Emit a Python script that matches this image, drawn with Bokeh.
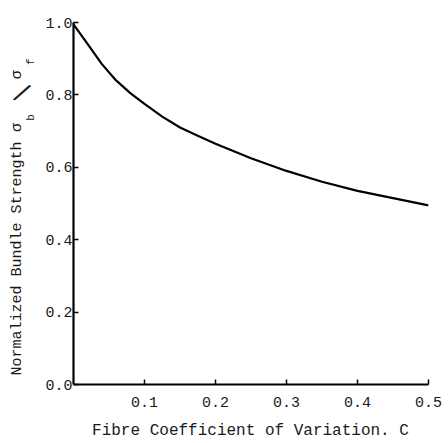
from bokeh.plotting import figure
from bokeh.models import Range1d, FixedTicker, LinearAxis
from bokeh.embed import file_html
from bokeh.resources import INLINE

# data
cv = [0.0, 0.02, 0.04, 0.06, 0.08, 0.10, 0.125, 0.15, 0.175, 0.20,
      0.25, 0.30, 0.35, 0.40, 0.45, 0.50]
strength = [0.995, 0.94, 0.885, 0.84, 0.805, 0.775, 0.74, 0.71, 0.687, 0.665,
            0.625, 0.59, 0.56, 0.535, 0.515, 0.495]
x_ticks = [0.1, 0.2, 0.3, 0.4, 0.5]
x_tick_labels = ["0.1", "0.2", "0.3", "0.4", "0.5"]
y_ticks = [0.0, 0.2, 0.4, 0.6, 0.8, 1.0]
y_tick_labels = ["0.0", "0.2", "0.4", "0.6", "0.8", "1.0"]
x_title = "Fibre Coefficient of Variation. C"
y_title = "Normalized Bundle Strength"
y_title_sym = ["σ", "b", "/", "σ", "f"]

FONT = "Liberation Mono"
INK = "#1a1a1a"

p = figure(width=448, height=443, output_backend="svg", toolbar_location=None,
           x_range=Range1d(0, 0.5), y_range=Range1d(0, 1.0),
           min_border_left=64, min_border_right=20, min_border_top=22,
           min_border_bottom=59)
p.outline_line_color = None
p.grid.visible = False
p.background_fill_color = "white"
p.border_fill_color = "white"

p.line(cv, strength, line_width=2.2, line_color="black")

for ax in (p.xaxis[0], p.yaxis[0]):
    ax.axis_line_width = 2.2
    ax.axis_line_color = "black"
    ax.major_tick_line_color = "black"
    ax.major_tick_line_width = 1.5
    ax.major_tick_in = 5
    ax.major_tick_out = 0
    ax.minor_tick_line_color = None
    ax.major_label_text_font = FONT
    ax.major_label_text_font_size = "15px"
    ax.major_label_text_color = INK

p.xaxis.ticker = FixedTicker(ticks=x_ticks)
p.xaxis.major_label_overrides = dict(zip(x_ticks, x_tick_labels))
p.xaxis.major_label_standoff = 12
p.yaxis.ticker = FixedTicker(ticks=y_ticks)
p.yaxis.major_label_overrides = dict(zip(y_ticks, y_tick_labels))
p.yaxis.major_label_standoff = 1


def text_axis(side, at, labels, size, standoff, orientation):
    ax = LinearAxis(ticker=FixedTicker(ticks=at),
                    major_label_overrides=dict(zip(at, labels)),
                    axis_line_color=None, major_tick_line_color=None,
                    minor_tick_line_color=None, major_tick_in=0,
                    major_tick_out=0, major_label_standoff=standoff,
                    major_label_orientation=orientation,
                    major_label_text_font=FONT,
                    major_label_text_font_size=size,
                    major_label_text_color=INK)
    p.add_layout(ax, side)


# x axis title (a text-only axis below the tick labels)
text_axis("below", [0.2493], [x_title], "16px", 12, "horizontal")

# y axis title: subscripts column, then sigma/main-text column, then slash
text_axis("left", [0.738, 0.892], [y_title_sym[1], y_title_sym[4]],
          "11px", 5, "vertical")
text_axis("left", [0.348, 0.710, 0.856],
          [y_title, y_title_sym[0], y_title_sym[3]], "15px", -4, "vertical")
text_axis("left", [0.793], [y_title_sym[2]], "26px", -22, -0.35)

open("out.html", "w").write(file_html(p, INLINE))
